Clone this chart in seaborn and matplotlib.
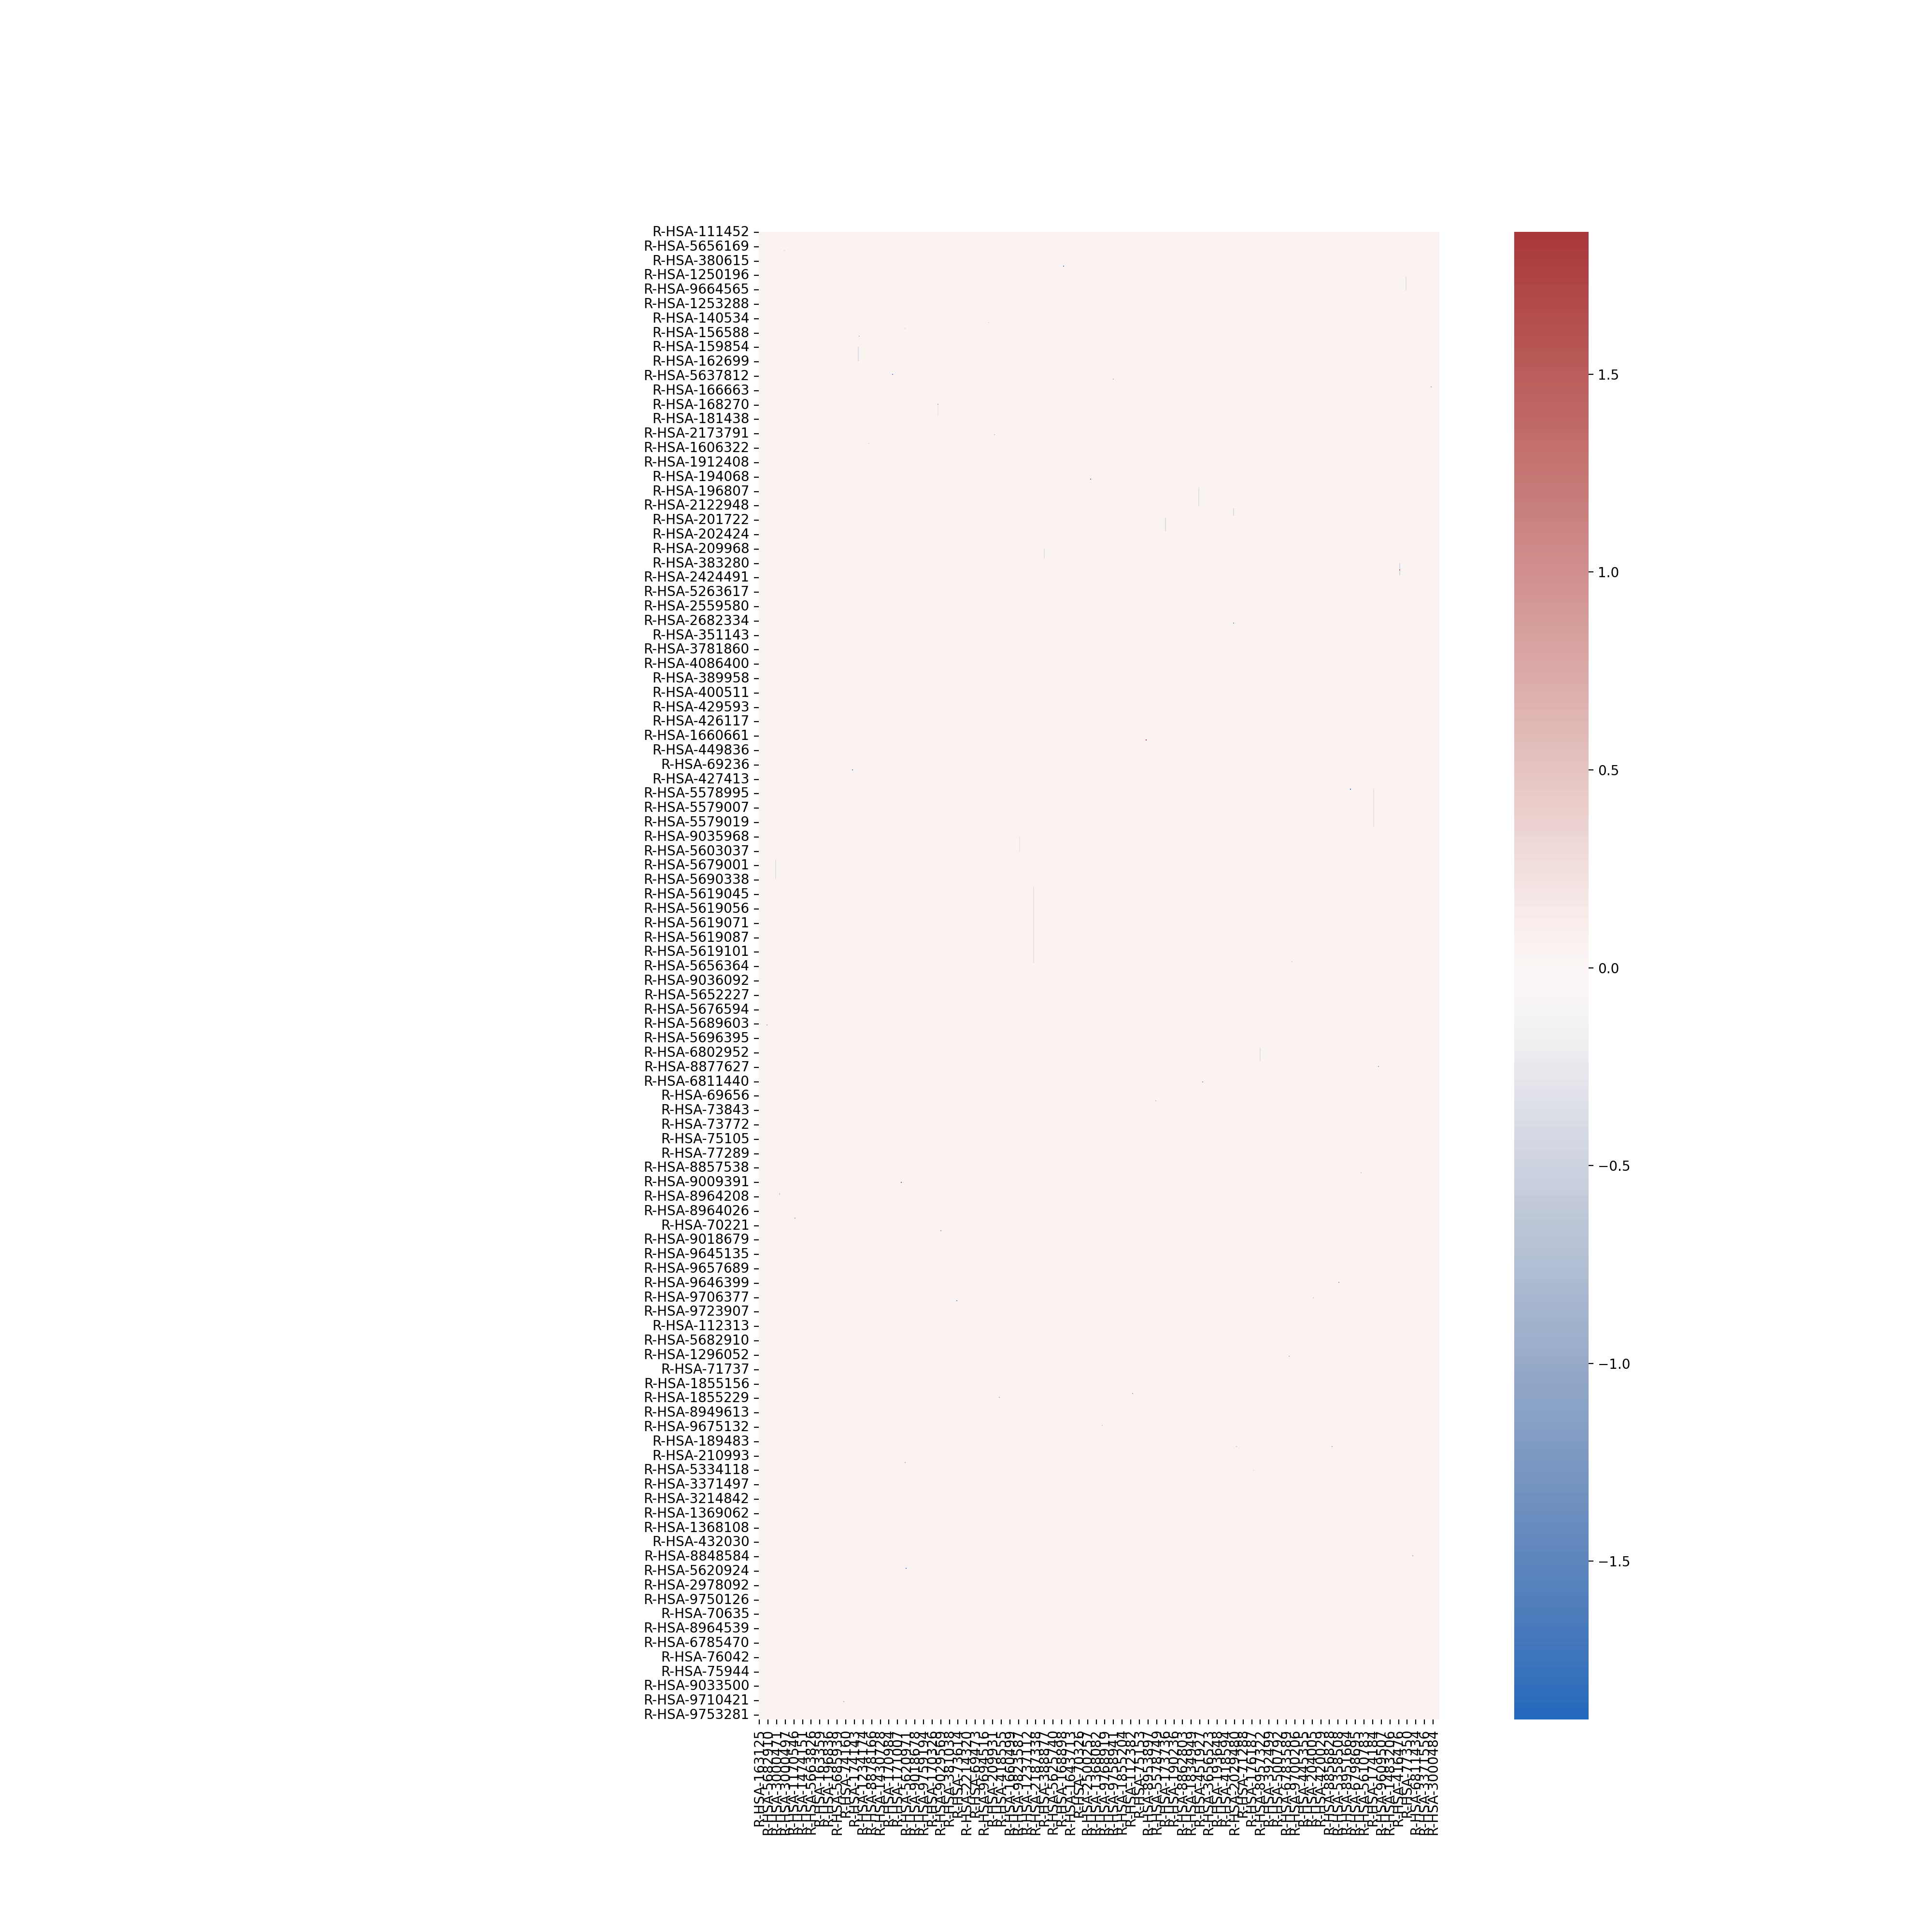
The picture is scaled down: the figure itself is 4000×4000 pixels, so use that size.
import numpy as np
import pandas as pd
import matplotlib
matplotlib.use("Agg")
import matplotlib.pyplot as plt
import seaborn as sns

# ---------------- data ----------------
n_rows = 1550
n_cols = 709
row_tick_step = 15
col_tick_step = 9
baseline = 0.05

row_labels_shown = [
    "R-HSA-111452", "R-HSA-5656169", "R-HSA-380615", "R-HSA-1250196", "R-HSA-9664565",
    "R-HSA-1253288", "R-HSA-140534", "R-HSA-156588", "R-HSA-159854", "R-HSA-162699",
    "R-HSA-5637812", "R-HSA-166663", "R-HSA-168270", "R-HSA-181438", "R-HSA-2173791",
    "R-HSA-1606322", "R-HSA-1912408", "R-HSA-194068", "R-HSA-196807", "R-HSA-2122948",
    "R-HSA-201722", "R-HSA-202424", "R-HSA-209968", "R-HSA-383280", "R-HSA-2424491",
    "R-HSA-5263617", "R-HSA-2559580", "R-HSA-2682334", "R-HSA-351143", "R-HSA-3781860",
    "R-HSA-4086400", "R-HSA-389958", "R-HSA-400511", "R-HSA-429593", "R-HSA-426117",
    "R-HSA-1660661", "R-HSA-449836", "R-HSA-69236", "R-HSA-427413", "R-HSA-5578995",
    "R-HSA-5579007", "R-HSA-5579019", "R-HSA-9035968", "R-HSA-5603037", "R-HSA-5679001",
    "R-HSA-5690338", "R-HSA-5619045", "R-HSA-5619056", "R-HSA-5619071", "R-HSA-5619087",
    "R-HSA-5619101", "R-HSA-5656364", "R-HSA-9036092", "R-HSA-5652227", "R-HSA-5676594",
    "R-HSA-5689603", "R-HSA-5696395", "R-HSA-6802952", "R-HSA-8877627", "R-HSA-6811440",
    "R-HSA-69656", "R-HSA-73843", "R-HSA-73772", "R-HSA-75105", "R-HSA-77289",
    "R-HSA-8857538", "R-HSA-9009391", "R-HSA-8964208", "R-HSA-8964026", "R-HSA-70221",
    "R-HSA-9018679", "R-HSA-9645135", "R-HSA-9657689", "R-HSA-9646399", "R-HSA-9706377",
    "R-HSA-9723907", "R-HSA-112313", "R-HSA-5682910", "R-HSA-1296052", "R-HSA-71737",
    "R-HSA-1855156", "R-HSA-1855229", "R-HSA-8949613", "R-HSA-9675132", "R-HSA-189483",
    "R-HSA-210993", "R-HSA-5334118", "R-HSA-3371497", "R-HSA-3214842", "R-HSA-1369062",
    "R-HSA-1368108", "R-HSA-432030", "R-HSA-8848584", "R-HSA-5620924", "R-HSA-2978092",
    "R-HSA-9750126", "R-HSA-70635", "R-HSA-8964539", "R-HSA-6785470", "R-HSA-76042",
    "R-HSA-75944", "R-HSA-9033500", "R-HSA-9710421", "R-HSA-9753281",
]

col_labels_shown = [
    "R-HSA-163125", "R-HSA-5682910", "R-HSA-3000471", "R-HSA-3000497", "R-HSA-1170546",
    "R-HSA-1474151", "R-HSA-5663826", "R-HSA-163359", "R-HSA-196836", "R-HSA-5685939",
    "R-HSA-74160", "R-HSA-174143", "R-HSA-1234174", "R-HSA-8878166", "R-HSA-1430728",
    "R-HSA-170984", "R-HSA-171007", "R-HSA-5620971", "R-HSA-9018678", "R-HSA-9759194",
    "R-HSA-170326", "R-HSA-9029569", "R-HSA-381038", "R-HSA-73614", "R-HSA-2214320",
    "R-HSA-69473", "R-HSA-9694516", "R-HSA-209931", "R-HSA-418555", "R-HSA-1660499",
    "R-HSA-9823587", "R-HSA-1237112", "R-HSA-2187338", "R-HSA-388877", "R-HSA-5625740",
    "R-HSA-168898", "R-HSA-1643713", "R-HSA-70326", "R-HSA-2500257", "R-HSA-1368082",
    "R-HSA-9768919", "R-HSA-9758941", "R-HSA-1855204", "R-HSA-112382", "R-HSA-75153",
    "R-HSA-8953897", "R-HSA-5578749", "R-HSA-173736", "R-HSA-190236", "R-HSA-8862803",
    "R-HSA-1834949", "R-HSA-451927", "R-HSA-3656523", "R-HSA-193648", "R-HSA-418594",
    "R-HSA-2029480", "R-HSA-71288", "R-HSA-176187", "R-HSA-8957322", "R-HSA-392499",
    "R-HSA-500792", "R-HSA-6783589", "R-HSA-9700206", "R-HSA-445355", "R-HSA-204005",
    "R-HSA-420029", "R-HSA-8856828", "R-HSA-5358508", "R-HSA-8951664", "R-HSA-6798695",
    "R-HSA-5610783", "R-HSA-174184", "R-HSA-9609507", "R-HSA-1483206", "R-HSA-416476",
    "R-HSA-77350", "R-HSA-6811434", "R-HSA-3371556", "R-HSA-3000484",
]

# isolated non-zero cells (row index, column index, value)
speck_rows = [35, 257, 529, 990, 1392, 580, 352, 560, 869, 885, 1094, 1113, 161, 407,
              153, 148, 826, 1002, 1027, 1040, 1210, 1171, 1265, 1282, 1214, 1531, 1379,
              905, 19, 100, 94, 179, 211, 220, 108, 1243, 1265, 1290, 980, 1110, 760]
speck_cols = [317, 345, 403, 148, 153, 616, 667, 97, 645, 462, 604, 206, 700, 494,
              369, 139, 8, 21, 37, 189, 389, 552, 597, 152, 250, 88, 681,
              413, 26, 152, 239, 186, 245, 114, 104, 357, 497, 515, 627, 577, 555]
speck_vals = [-1.6, -1.6, 1.86, -1.7, -1.6, -1.90, 1.6, -1.5, -1.1, -1.2, -1.1, -1.3, -1.0, -1.2,
              -0.8, -1.5, -0.9, -0.8, -1.0, -1.1, -1.0, -0.8, -0.9, -0.9, -0.9, -0.9, -0.9,
              -0.7, -0.4, -0.4, -0.4, -0.8, -0.7, -0.4, -0.7, -0.6, -0.6, -0.6, -0.6, -0.6, -0.5]

# short vertical runs of faint values (column, first row, last row, value)
streak_cols = [286, 17, 458, 423, 674, 640, 103, 522, 271, 297, 667, 494, 186]
streak_r0 = [683, 654, 266, 298, 47, 580, 120, 850, 630, 330, 345, 288, 180]
streak_r1 = [761, 673, 285, 311, 60, 619, 134, 863, 645, 339, 357, 295, 190]
streak_vals = [-0.3, -0.35, -0.35, -0.4, -0.35, -0.3, -0.4, -0.35, -0.25, -0.35, -0.45, -0.4, -0.25]

# ---------------- build matrix ----------------
values = np.full((n_rows, n_cols), baseline)
for c, r0, r1, v in zip(streak_cols, streak_r0, streak_r1, streak_vals):
    values[r0:r1 + 1, c] = v
for r, c, v in zip(speck_rows, speck_cols, speck_vals):
    values[r, c] = v

row_names = [""] * n_rows
for i, lab in enumerate(row_labels_shown):
    row_names[i * row_tick_step] = lab
col_names = [""] * n_cols
for i, lab in enumerate(col_labels_shown):
    col_names[i * col_tick_step] = lab

df = pd.DataFrame(values, index=row_names, columns=col_names)

# ---------------- plot ----------------
fig, ax = plt.subplots(figsize=(20, 20))
sns.heatmap(df, cmap="vlag", square=True,
            xticklabels=col_tick_step, yticklabels=row_tick_step, ax=ax)
fig.savefig("out.png", dpi=200)
